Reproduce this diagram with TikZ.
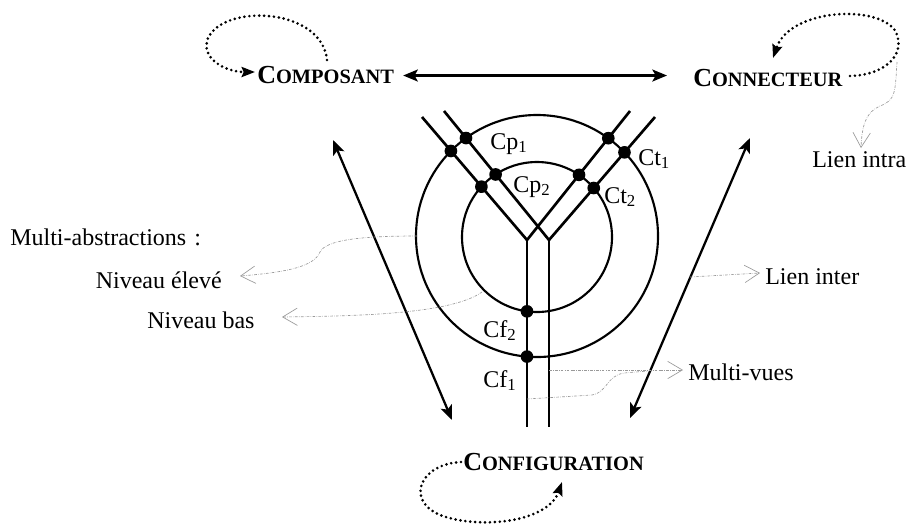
\documentclass[tikz,border=0pt]{standalone}
\usepackage{fontspec}
\setmainfont{Liberation Serif}
\usetikzlibrary{arrows.meta,intersections,calc}
\newcommand\fakesc[2]{{\bfseries\fontsize{19.5}{21}\selectfont #1\fontsize{15.3}{17}\selectfont #2}}
\tikzset{
 txt/.style={inner sep=0pt, font=\fontsize{18}{20}\selectfont},
 dblarrow/.style={line width=1.7pt, {Stealth[length=11pt,width=9pt,inset=2.5pt]}-{Stealth[length=11pt,width=9pt,inset=2.5pt]}},
 loopline/.style={line width=2.2pt, line cap=round, dash pattern=on 0pt off 3.7pt, -{Stealth[length=10pt,width=7.5pt,inset=1.5pt]}},
 thinlink/.style={gray!80, line width=0.5pt, dash pattern=on 2pt off 1pt on 0.4pt off 1pt, -{Straight Barb[length=11pt,width=13pt,line width=0.5pt]}},
 thinplain/.style={gray!80, line width=0.5pt, dash pattern=on 2pt off 1pt on 0.4pt off 1pt},
 ring/.style={line width=1.6pt},
 yline/.style={line width=2pt, line join=miter},
 dot/.style={circle, fill, inner sep=0pt, minimum size=9.5pt}
}
\begin{document}
\begin{tikzpicture}[x=0.75pt,y=-0.75pt]
\useasboundingbox (0,0) rectangle (906,526);

% rings
\draw[ring, name path=outer] (537,236) circle[radius=121];
\draw[ring, name path=inner] (537,237) circle[radius=75];

% Y structure
\path[name path=A] (422,117) -- (527,240);
\path[name path=C] (630,111) -- (527,240);
\path[name path=B] (444,111) -- (549,240);
\path[name path=D] (655,117) -- (549,240);
\path[name path=T1] (527,240) -- (527,427);
\draw[yline] (422,117) -- (527,240) -- (630,111);
\draw[yline] (444,111) -- (549,240) -- (655,117);
\draw[yline] (527,239) -- (527,427);
\draw[yline] (549,239) -- (549,427);

% dots at intersections
\path[name intersections={of=A and outer, by=ao}];
\path[name intersections={of=B and outer, by=bo}];
\path[name intersections={of=C and outer, by=co}];
\path[name intersections={of=D and outer, by=do}];
\path[name intersections={of=A and inner, by=ai}];
\path[name intersections={of=B and inner, by=bi}];
\path[name intersections={of=C and inner, by=ci}];
\path[name intersections={of=D and inner, by=di}];
\path[name intersections={of=T1 and inner, by=ti}];
\path[name intersections={of=T1 and outer, by=to}];
\foreach \p in {ao,bo,co,do,ai,bi,ci,di,ti,to}{\node[dot] (dot\p) at (\p) {};}

% small labels
\node[txt, anchor=base west] (cp1) at (490,149) {Cp\textsubscript{1}};
\node[txt, anchor=base west] (cp2) at (513,192) {Cp\textsubscript{2}};
\node[txt, anchor=base west] (ct1) at (638,165) {Ct\textsubscript{1}};
\node[txt, anchor=base west] (ct2) at (604,203) {Ct\textsubscript{2}};
\node[txt, anchor=base west] (cf2) at (483,337) {Cf\textsubscript{2}};
\node[txt, anchor=base west] (cf1) at (483,387) {Cf\textsubscript{1}};

% main nodes
\node[inner sep=0pt, anchor=base west] (comp) at (257,83) {\fakesc{C}{OMPOSANT}};
\node[inner sep=0pt, anchor=base west] (conn) at (693,86) {\fakesc{C}{ONNECTEUR}};
\node[inner sep=0pt, anchor=base west] (conf) at (463,470) {\fakesc{C}{ONFIGURATION}};

% text labels
\node[txt, anchor=base west] (multiabs) at (10,245) {Multi-abstractions\,\,:};
\node[txt, anchor=base east] (nivelev) at (222,288) {Niveau élevé};
\node[txt, anchor=base west] (nivbas) at (147,328) {Niveau bas};
\node[txt, anchor=base west] (lieninter) at (765,284) {Lien inter};
\node[txt, anchor=base west] (multivues) at (688,380) {Multi-vues};
\node[txt, anchor=base west] (lienintra) at (812,167) {Lien intra};

% heavy arrows
\draw[dblarrow] ($(comp.east)+(9,1)$) -- ($(conn.west)+(-26,-2)$);
\coordinate (lt) at (333,140);
\coordinate (lb) at (452,420);
\coordinate (rt) at (750,138);
\coordinate (rb) at (630,418);
\draw[dblarrow] (lt) -- (lb);
\draw[dblarrow] (rt) -- (rb);

% dotted self loops
\coordinate (compA) at (327,60);
\coordinate (compB) at (255,72);
\draw[loopline] (compA) .. controls (322,8) and (225,3) .. (208,38) .. controls (200,58) and (225,72) .. (compB);
\coordinate (connA) at (850,76);
\coordinate (connB) at (773,58);
\draw[loopline] (connA) .. controls (885,75) and (906,55) .. (896,32) .. controls (880,4) and (790,8) .. (connB);
\coordinate (confA) at (461,462);
\coordinate (confB) at (562,482);
\draw[loopline] (confA) .. controls (420,464) and (405,500) .. (440,515) .. controls (480,530) and (548,522) .. (confB);

% thin grey links
\coordinate (intraA) at (897,62);
\coordinate (intraB) at (861,148);
\draw[thinlink] (intraA) .. controls (895,92) and (896,100) .. (880,106) .. controls (866,112) and (862,125) .. (intraB);
\coordinate (elevA) at (417,236);
\coordinate (elevB) at (240,276);
\draw[thinlink] (elevA) .. controls (360,236) and (326,240) .. (320,252) .. controls (314,266) and (290,272) .. (elevB);
\coordinate (basA) at (482,292);
\coordinate (basB) at (282,317);
\draw[thinlink] (basA) .. controls (450,315) and (350,316) .. (basB);
\coordinate (interA) at (690,277);
\coordinate (interB) at (760,273);
\draw[thinlink] (interA) -- (interB);
\coordinate (vuesA) at (549,370);
\coordinate (vuesB) at (683,370);
\coordinate (vuesC) at (527,399);
\coordinate (vuesJ) at (648,371);
\draw[thinlink] (vuesA) -- (vuesB);
\draw[thinplain] (vuesC) -- (592,395) .. controls (608,392) and (606,376) .. (624,373) -- (vuesJ);
\end{tikzpicture}
\end{document}
